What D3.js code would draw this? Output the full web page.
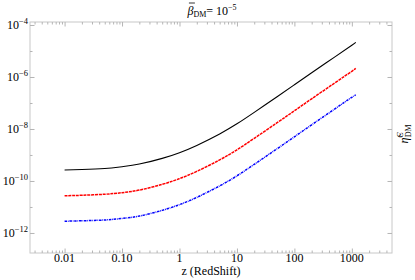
<!DOCTYPE html>
<html>
<head>
<meta charset="utf-8">
<script src="https://cdn.jsdelivr.net/npm/d3@7"></script>
<style>
  body { margin: 0; background: #fff; }
  svg { display: block; }
  svg text { font-family: "Liberation Serif", "DejaVu Serif", serif; }
  .axis path { display: none; }
  .axis line { stroke: #b5b5b5; }
</style>
</head>
<body>
<svg id="chart" width="415" height="280"></svg>
<script>
// redshift samples
var redshift = [0.01, 0.02, 0.05, 0.1, 0.2, 0.5, 1, 2, 5, 10, 20, 50, 100, 200, 500, 1000, 1170];

// curves
var blackSeries = [2.63e-10, 2.75e-10, 3.02e-10, 3.55e-10, 4.47e-10, 7.41e-10, 1.23e-9, 2.34e-9, 6.46e-9,
                   1.58e-8, 4.37e-8, 1.74e-7, 5.01e-7, 1.45e-6, 5.82e-6, 1.66e-5, 2.14e-5];
var redSeries = [2.69e-11, 2.82e-11, 3.09e-11, 3.55e-11, 4.47e-11, 7.41e-11, 1.23e-10, 2.34e-10, 6.46e-10,
                 1.58e-9, 4.37e-9, 1.74e-8, 5.01e-8, 1.45e-7, 5.82e-7, 1.66e-6, 2.14e-6];
var blueSeries = [2.82e-12, 2.95e-12, 3.16e-12, 3.63e-12, 4.47e-12, 7.41e-12, 1.23e-11, 2.34e-11, 6.46e-11,
                  1.58e-10, 4.37e-10, 1.74e-9, 5.01e-9, 1.45e-8, 5.82e-8, 1.66e-7, 2.04e-7];

// axis ticks
var xMajor = [0.01, 0.1, 1, 10, 100, 1000];
var xLabels = ["0.01", "0.10", "1", "10", "100", "1000"];
var yMajorExp = [-4, -6, -8, -10, -12];
var yMinorExp = [-5, -7, -9, -11];

var svg = d3.select("#chart");
var plotL = 30, plotR = 392, plotT = 22, plotB = 253;

var x = d3.scaleLog().domain([0.0025, 5000]).range([plotL, plotR]);
var y = d3.scaleLog().domain([Math.pow(10, -12.77), Math.pow(10, -3.885)]).range([plotB, plotT]);

// minor x ticks 2..9 per decade
var xMinor = [];
for (var e = -3; e <= 3; e++) {
  for (var k = 2; k <= 9; k++) {
    var v = k * Math.pow(10, e);
    if (v > 0.0025 && v < 5000) xMinor.push(v);
  }
}

// frame
svg.append("rect")
  .attr("x", plotL).attr("y", plotT)
  .attr("width", plotR - plotL).attr("height", plotB - plotT)
  .attr("fill", "none").attr("stroke", "#c8c8c8").attr("stroke-width", 1);

function drawX(pos, axisFn, values, size) {
  svg.append("g").attr("class", "axis")
    .attr("transform", "translate(0," + pos + ")")
    .call(axisFn(x).tickValues(values).tickSize(size).tickFormat(""));
}
drawX(plotB, d3.axisBottom, xMajor, -4.5);
drawX(plotB, d3.axisBottom, xMinor, -2.5);
drawX(plotT, d3.axisTop, xMajor, -4.5);
drawX(plotT, d3.axisTop, xMinor, -2.5);

var yMajor = yMajorExp.map(function(p) { return Math.pow(10, p); });
var yMinor = yMinorExp.map(function(p) { return Math.pow(10, p); });
function drawY(pos, axisFn, values, size) {
  svg.append("g").attr("class", "axis")
    .attr("transform", "translate(" + pos + ",0)")
    .call(axisFn(y).tickValues(values).tickSize(size).tickFormat(""));
}
drawY(plotL, d3.axisLeft, yMajor, -4.5);
drawY(plotL, d3.axisLeft, yMinor, -2.5);
drawY(plotR, d3.axisRight, yMajor, -4.5);
drawY(plotR, d3.axisRight, yMinor, -2.5);

// x labels
svg.append("g").selectAll("text")
  .data(xMajor)
  .join("text")
  .attr("x", function(d) { return x(d); })
  .attr("y", 262)
  .attr("text-anchor", "middle")
  .attr("font-size", 12)
  .text(function(d, i) { return xLabels[i]; });

// y labels 10^n
var yl = svg.append("g").selectAll("text")
  .data(yMajorExp)
  .join("text")
  .attr("x", 28)
  .attr("y", function(d) { return y(Math.pow(10, d)) + 4; })
  .attr("text-anchor", "end")
  .attr("font-size", 12);
yl.append("tspan").text("10");
yl.append("tspan").attr("dy", -5).attr("font-size", 8.5)
  .text(function(d) { return "\u2212" + Math.abs(d); });

// curves
var line = d3.line()
  .x(function(d) { return x(d[0]); })
  .y(function(d) { return y(d[1]); })
  .curve(d3.curveNatural);

var series = [
  { values: blackSeries, color: "#000", dash: null, w: 1.1 },
  { values: redSeries, color: "#ff0000", dash: "3,0.8", w: 1.5 },
  { values: blueSeries, color: "#0000ff", dash: "2.5,0.8,0.8,0.8", w: 1.5 }
];
series.forEach(function(s) {
  svg.append("path")
    .datum(d3.zip(redshift, s.values))
    .attr("fill", "none")
    .attr("stroke", s.color)
    .attr("stroke-width", s.w)
    .attr("stroke-dasharray", s.dash)
    .attr("d", line);
});

// axis title
svg.append("text")
  .attr("x", 211).attr("y", 275)
  .attr("text-anchor", "middle")
  .attr("font-size", 12)
  .text("z (RedShift)");

// plot title
var title = svg.append("text")
  .attr("x", 212).attr("y", 15)
  .attr("text-anchor", "middle")
  .attr("font-size", 12);
title.append("tspan").attr("font-style", "italic").text("\u03B2");
title.append("tspan").attr("dy", 2).attr("font-size", 8).text("DM");
title.append("tspan").attr("dy", -2).text("= 10");
title.append("tspan").attr("dy", -5).attr("font-size", 8).text("\u22125");
// bar over beta
var tn = title.node();
var b0 = tn.getStartPositionOfChar(0), b1 = tn.getEndPositionOfChar(0);
svg.append("line")
  .attr("x1", b0.x + 1.5).attr("x2", b1.x + 1.5)
  .attr("y1", 3).attr("y2", 3)
  .attr("stroke", "#000").attr("stroke-width", 0.8);

// right label
var rl = svg.append("text")
  .attr("transform", "translate(408,134) rotate(-90)")
  .attr("text-anchor", "middle")
  .attr("font-size", 12);
rl.append("tspan").attr("font-style", "italic").text("\u03B7\u0303");
rl.append("tspan").attr("dy", -5).attr("font-size", 8).attr("font-style", "italic").text("C");
rl.append("tspan").attr("dx", -5).attr("dy", 8).attr("font-size", 8).text("DM");
</script>
</body>
</html>
